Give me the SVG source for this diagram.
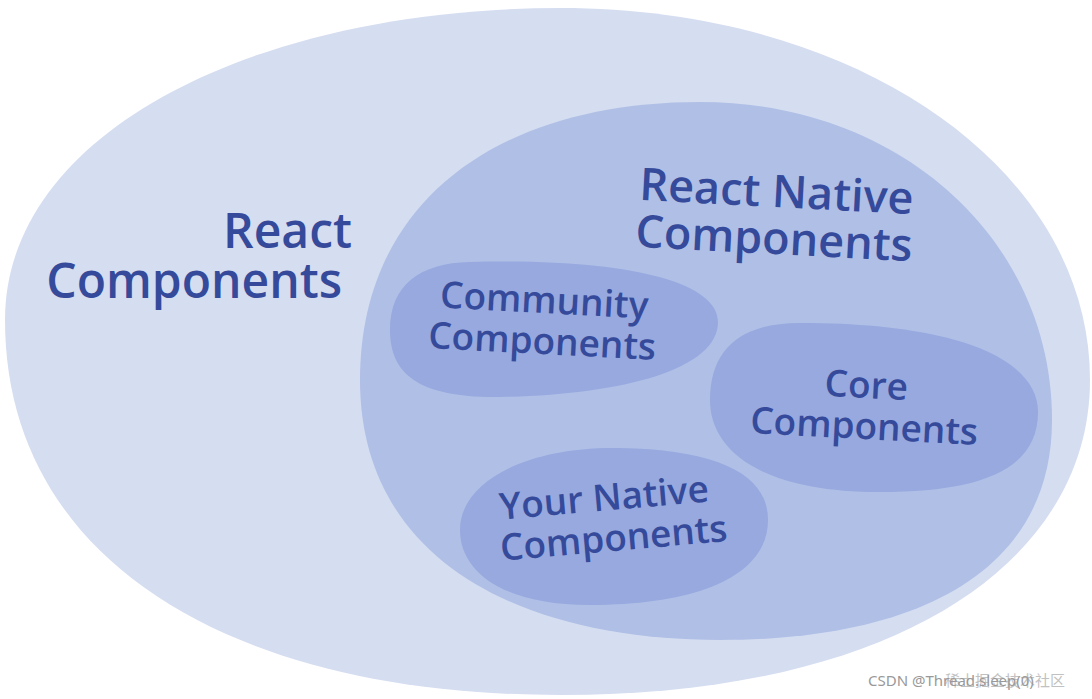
<svg xmlns="http://www.w3.org/2000/svg" width="1092" height="699" viewBox="0 0 1092 699">
<style>
.t{font-family:"Open Sans","Noto Sans",sans-serif;font-weight:600;fill:#354a9a}
.big{font-size:48px}
.rn{font-size:45px}
.sm{font-size:37px}
.wm{font-family:"Noto Sans","Noto Sans CJK SC",sans-serif;font-size:15px;fill:#999}
</style>
<rect width="1092" height="699" fill="#fff"/>
<g id="react">
<path d="M560,8 C860,8 1090,170 1090,380 C1090,560 900,695 560,695 C230,695 5,560 5,320 C5,130 260,8 560,8 Z" fill="#d5ddf0"/>
<text class="t big" text-anchor="end"><tspan x="352" y="248">React</tspan><tspan x="342" y="298">Components</tspan></text>
</g>
<g id="rn">
<path d="M700,102 C900,102 1052,240 1052,420 C1052,570 920,640 720,640 C520,640 360,560 360,380 C360,200 500,102 700,102 Z" fill="#b0bfe6"/>
<text class="t rn" text-anchor="middle" transform="rotate(3 775 220)"><tspan x="775" y="207">React Native</tspan><tspan x="775" y="254">Components</tspan></text>
</g>
<g id="community">
<path d="M470,262 C620,258 718,280 718,322 C718,370 620,395 500,397 C420,398 390,375 390,330 C390,285 420,263 470,262 Z" fill="#97a9de"/>
<text class="t sm" text-anchor="middle" transform="rotate(3 543 325)"><tspan x="543" y="313">Community</tspan><tspan x="543" y="354">Components</tspan></text>
</g>
<g id="core">
<path d="M800,323 C960,323 1038,360 1038,412 C1038,470 980,492 880,492 C760,492 710,450 710,400 C710,350 740,323 800,323 Z" fill="#97a9de"/>
<text class="t sm" text-anchor="middle" transform="rotate(3 865 410)"><tspan x="865" y="398">Core</tspan><tspan x="865" y="439">Components</tspan></text>
</g>
<g id="yours">
<path d="M620,448 C720,450 768,475 768,520 C768,575 700,605 590,605 C500,605 460,570 460,530 C460,480 530,446 620,448 Z" fill="#97a9de"/>
<text class="t sm" text-anchor="middle" transform="rotate(-5 612 520)"><tspan x="606" y="510">Your Native</tspan><tspan x="612" y="551">Components</tspan></text>
</g>
<g id="connectors"></g>
<text class="wm" x="868" y="686">CSDN @Thread.sleep(0)</text>
<text class="wm" x="945" y="686" opacity="0.6">稀土掘金技术社区</text>
</svg>
